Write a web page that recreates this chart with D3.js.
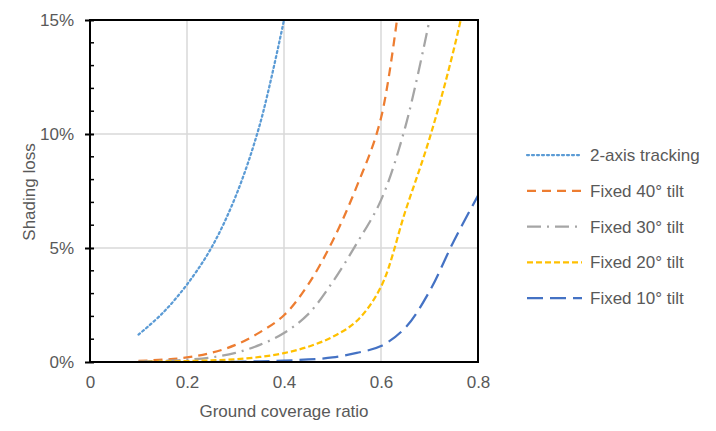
<!DOCTYPE html>
<html>
<head>
<meta charset="utf-8">
<script src="https://cdn.jsdelivr.net/npm/d3@7"></script>
<style>
  body { margin: 0; background: #fff; }
  text { font-family: Arial, "Liberation Sans", sans-serif; fill: #595959; }
</style>
</head>
<body>
<svg></svg>
<script>
// shading loss vs ground coverage ratio

var gcr = [0.1, 0.15, 0.2, 0.25, 0.3, 0.35, 0.4, 0.45, 0.5, 0.55, 0.6, 0.65, 0.7, 0.75, 0.8];

// values in %
var tracking2axis = [1.2, 2.15, 3.4, 5.0, 7.25, 10.4, 15.0];
var tilt40 = [0.05, 0.1, 0.2, 0.4, 0.75, 1.3, 2.05, 3.4, 5.3, 7.7, 10.7, 18.0];
var tilt30 = [0.02, 0.05, 0.1, 0.2, 0.4, 0.75, 1.27, 2.1, 3.5, 5.2, 7.1, 10.3, 15.0];
var tilt20 = [0.0, 0.02, 0.04, 0.07, 0.12, 0.22, 0.39, 0.67, 1.1, 1.8, 3.3, 6.6, 9.8, 13.7, 18.5];
var tilt10 = [0.0, 0.0, 0.0, 0.0, 0.01, 0.03, 0.06, 0.11, 0.2, 0.4, 0.7, 1.5, 3.1, 5.3, 7.3];

var seriesNames = ["2-axis tracking", "Fixed 40\u00b0 tilt", "Fixed 30\u00b0 tilt", "Fixed 20\u00b0 tilt", "Fixed 10\u00b0 tilt"];
var seriesData = [tracking2axis, tilt40, tilt30, tilt20, tilt10];
var colors = ["#5B9BD5", "#ED7D31", "#A5A5A5", "#FFC000", "#4472C4"];
var dashes = ["2,3", "9,6", "14,6,2,6", "6,3", "16,7"];
var caps = ["round", "butt", "butt", "butt", "butt"];

var xTicks = [0, 0.2, 0.4, 0.6, 0.8];
var yTicks = [0, 5, 10, 15];

var svgWidth = 716, svgHeight = 431;
var plotLeft = 90, plotTop = 20, plotRight = 478, plotBottom = 362;
var fontSize = 17;

var svg = d3.select("svg")
    .attr("width", svgWidth)
    .attr("height", svgHeight);

var xScale = d3.scaleLinear().domain([0, 0.8]).range([plotLeft, plotRight]);
var yScale = d3.scaleLinear().domain([0, 15]).range([plotBottom, plotTop]);

// gridlines
svg.selectAll(".vgrid")
    .data(xTicks.slice(1, -1))
    .enter()
    .append("line")
    .attr("x1", function(d) { return xScale(d); })
    .attr("x2", function(d) { return xScale(d); })
    .attr("y1", plotTop)
    .attr("y2", plotBottom)
    .attr("stroke", "#d9d9d9")
    .attr("stroke-width", 1.5);

svg.selectAll(".hgrid")
    .data(yTicks.slice(1, -1))
    .enter()
    .append("line")
    .attr("x1", plotLeft)
    .attr("x2", plotRight)
    .attr("y1", function(d) { return yScale(d); })
    .attr("y2", function(d) { return yScale(d); })
    .attr("stroke", "#d9d9d9")
    .attr("stroke-width", 1.5);

svg.append("clipPath")
    .attr("id", "plotclip")
    .append("rect")
    .attr("x", plotLeft)
    .attr("y", plotTop)
    .attr("width", plotRight - plotLeft)
    .attr("height", plotBottom - plotTop);

var line = d3.line()
    .x(function(d, i) { return xScale(gcr[i]); })
    .y(function(d) { return yScale(d); })
    .curve(d3.curveCatmullRom.alpha(0.5));

svg.append("g")
    .attr("clip-path", "url(#plotclip)")
    .selectAll("path")
    .data(seriesData)
    .enter()
    .append("path")
    .attr("d", function(d) { return line(d); })
    .attr("fill", "none")
    .attr("stroke", function(d, i) { return colors[i]; })
    .attr("stroke-width", 2.25)
    .attr("stroke-dasharray", function(d, i) { return dashes[i]; })
    .attr("stroke-linecap", function(d, i) { return caps[i]; });

// frame
svg.append("rect")
    .attr("x", plotLeft)
    .attr("y", plotTop)
    .attr("width", plotRight - plotLeft)
    .attr("height", plotBottom - plotTop)
    .attr("fill", "none")
    .attr("stroke", "#000")
    .attr("stroke-width", 2);

// y axis with minor ticks inside
var yAxis = d3.axisLeft(yScale)
    .tickValues(yTicks)
    .tickSize(5)
    .tickPadding(11)
    .tickFormat(function(d) { return d + "%"; });

var yg = svg.append("g")
    .attr("transform", "translate(" + plotLeft + ",0)")
    .call(yAxis);
yg.select(".domain").remove();
yg.selectAll(".tick line").attr("stroke", "#000").attr("stroke-width", 2).attr("x2", -5).attr("x1", 4);
yg.selectAll("text").attr("font-size", fontSize).attr("fill", "#595959");

svg.selectAll(".minor")
    .data(d3.range(1, 15).filter(function(d) { return d % 5 !== 0; }))
    .enter()
    .append("line")
    .attr("x1", plotLeft)
    .attr("x2", plotLeft + 4)
    .attr("y1", function(d) { return yScale(d); })
    .attr("y2", function(d) { return yScale(d); })
    .attr("stroke", "#000")
    .attr("stroke-width", 1.5);

// x axis
var xAxis = d3.axisBottom(xScale)
    .tickValues(xTicks)
    .tickSize(0)
    .tickPadding(14)
    .tickFormat(function(d) { return d === 0 ? "0" : d3.format(".1f")(d); });

var xg = svg.append("g")
    .attr("transform", "translate(0," + plotBottom + ")")
    .call(xAxis);
xg.select(".domain").remove();
xg.selectAll("text").attr("font-size", fontSize).attr("fill", "#595959");

// axis titles
svg.append("text")
    .attr("x", (plotLeft + plotRight) / 2)
    .attr("y", 417)
    .attr("text-anchor", "middle")
    .attr("font-size", fontSize)
    .text("Ground coverage ratio");

svg.append("text")
    .attr("transform", "translate(35,192) rotate(-90)")
    .attr("text-anchor", "middle")
    .attr("font-size", fontSize)
    .text("Shading loss");

// legend
var legend = svg.selectAll(".legend")
    .data(seriesNames)
    .enter()
    .append("g")
    .attr("transform", function(d, i) { return "translate(527," + (155 + i * 35.8) + ")"; });

legend.append("line")
    .attr("x1", 0)
    .attr("x2", 55)
    .attr("stroke", function(d, i) { return colors[i]; })
    .attr("stroke-width", 2.25)
    .attr("stroke-dasharray", function(d, i) { return dashes[i]; })
    .attr("stroke-linecap", function(d, i) { return caps[i]; });

legend.append("text")
    .attr("x", 63)
    .attr("y", 6)
    .attr("font-size", fontSize)
    .text(function(d) { return d; });
</script>
</body>
</html>
